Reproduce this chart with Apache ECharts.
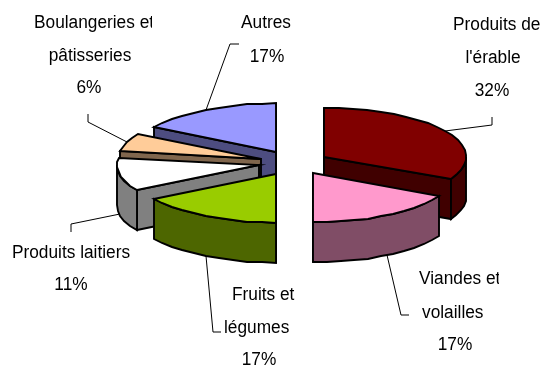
<!DOCTYPE html>
<html>
<head>
<meta charset="utf-8">
<style>html,body{margin:0;padding:0;background:#fff}#c{width:544px;height:367px}</style>
<script src="https://cdn.jsdelivr.net/npm/echarts@6/dist/echarts.min.js"></script>
</head>
<body>
<div id="c"></div>
<script>
// Data
const categories = ["Produits de l'érable", "Viandes et volailles", "Fruits et légumes", "Produits laitiers", "Boulangeries et pâtisseries", "Autres"];
const values = [32.5, 17.5, 16.5, 11, 6, 16.5];
const percentLabels = ['32%', '17%', '17%', '11%', '6%', '17%'];
const labelLines = [["Produits de", "l'érable"], ["Viandes et", "volailles"], ["Fruits et", "légumes"], ["Produits laitiers"], ["Boulangeries et", "pâtisseries"], ["Autres"]];

// Styles
const topColors = ['#800000', '#FF99CC', '#99CC00', '#FFFFFF', '#FFCC99', '#9999FF'];
const sideColors = ['#400000', '#804D66', '#4D6600', '#808080', '#80664D', '#4D4D80'];
const paintOrder = [1, 2, 4, 3, 2, 1];

// Pie layout
const cx = 294, cy = 163, rx = 142, ry = 49, depth = 40, explode = 0.25, arcStep = 6;

// Label layout: [x, y, align] per line; last entry is the percent line
const labelPlace = [
  [[453, 25, 'left'], [493, 58, 'center'], [492, 91, 'center']],
  [[419, 279, 'left'], [422, 313, 'left'], [455, 345, 'center']],
  [[232, 295, 'left'], [224, 328, 'left'], [259, 360, 'center']],
  [[71, 253, 'center'], [71, 285, 'center']],
  [[34, 23, 'left'], [90, 56, 'center'], [89, 88, 'center']],
  [[266, 23, 'center'], [267, 57, 'center']]
];
const labelClipRight = [541, 499, 544, 544, 152, 544];
const fontScaleX = 0.96;
// Leader bends after leaving the slice
const leaderBends = [
  [[492, 125], [492, 117]],
  [[401, 315], [409, 315]],
  [[213, 332], [221, 332]],
  [[71, 224], [71, 232]],
  [[88, 122], [88, 114]],
  [[230, 44], [239, 44]]
];

const total = values.reduce((a, b) => a + b, 0);
const rad = d => d * Math.PI / 180;
let acc = 0;
const spans = values.map(v => { const s = acc; acc += v / total * 360; return [s, acc]; });

function renderSlice(params, api) {
  const i = params.dataIndex;
  const [s, e] = spans[i];
  const mid = (s + e) / 2;
  const ax = cx + explode * rx * Math.sin(rad(mid));
  const ay = cy - explode * ry * Math.cos(rad(mid));
  const pt = (a, d) => [Math.round(ax + rx * Math.sin(rad(a))), Math.round(ay - ry * Math.cos(rad(a)) + (d || 0))];
  const arc = (a0, a1) => {
    const n = Math.max(1, Math.round(Math.abs(a1 - a0) / arcStep)), out = [];
    for (let k = 0; k <= n; k++) out.push(pt(a0 + (a1 - a0) * k / n));
    return out;
  };
  const base = paintOrder[i] * 100 + (i < 3 && i !== 2 ? 1000 : 0);
  const line = { stroke: '#000', lineWidth: 1.9, lineJoin: 'miter' };
  const poly = (points, fill, z) => ({ type: 'polygon', z2: base + z, shape: { points }, style: Object.assign({ fill }, line), silent: true });
  const children = [];
  const apex = [Math.round(ax), Math.round(ay)];
  const wall = a => {
    const c = pt(a);
    return poly([apex, c, [c[0], c[1] + depth], [apex[0], apex[1] + depth]], sideColors[i], 1);
  };
  // Cut faces that turn toward the viewer
  if (Math.cos(rad(s - 90)) < 1e-6) children.push(wall(s));
  if (Math.cos(rad(e + 90)) < 1e-6) children.push(wall(e));
  // Outer rim where it faces the viewer
  const r0 = Math.max(s, 90), r1 = Math.min(e, 270);
  if (r1 > r0) {
    const a = arc(r0, r1);
    const b = a.map(p => [p[0], p[1] + depth]).reverse();
    children.push(poly(a.concat(b), sideColors[i], 2));
  }
  // Top face
  children.push(poly([apex].concat(arc(s, e)), topColors[i], 3));
  // Leader
  const start = pt(mid, Math.cos(rad(mid)) < 0 ? depth : 0);
  children.push({
    type: 'polyline', z2: 5000, silent: true,
    shape: { points: [start].concat(leaderBends[i]) },
    style: { stroke: '#000', lineWidth: 1, fill: null }
  });
  // Text
  const lines = labelLines[i].concat([percentLabels[i]]);
  lines.forEach((t, k) => {
    const p = labelPlace[i][k];
    children.push({
      type: 'text', z2: 5001, silent: true,
      x: p[0], y: p[1], scaleX: fontScaleX,
      clipPath: { type: 'rect', shape: { x: -1000, y: -100, width: 1000 + (labelClipRight[i] - p[0]) / fontScaleX, height: 200 } },
      style: { text: t, x: 0, y: 0, align: p[2], verticalAlign: 'middle', fill: '#000', font: '18px "Liberation Sans", Arial, sans-serif' }
    });
  });
  return { type: 'group', children };
}

const chart = echarts.init(document.getElementById('c'), null, { renderer: 'canvas' });
chart.setOption({
  animation: false,
  backgroundColor: '#fff',
  series: [{
    type: 'custom',
    coordinateSystem: 'none',
    renderItem: renderSlice,
    clip: false,
    data: categories.map((name, i) => ({ name, value: values[i] }))
  }]
});
</script>
</body>
</html>
